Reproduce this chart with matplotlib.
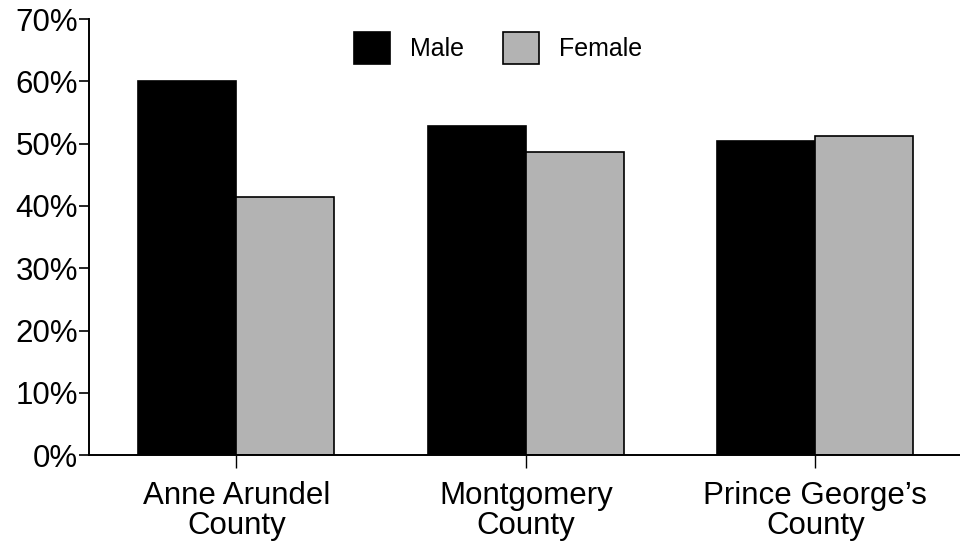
import numpy as np
import matplotlib
matplotlib.use("Agg")
import matplotlib.pyplot as plt
from matplotlib.ticker import PercentFormatter

plt.rcParams['font.family'] = ['Liberation Sans', 'DejaVu Sans']

counties = ["Anne Arundel\nCounty", "Montgomery\nCounty", "Prince George\u2019s\nCounty"]
male = [60.0, 52.8, 50.4]
female = [41.5, 48.6, 51.2]
y_ticks = [0, 10, 20, 30, 40, 50, 60, 70]

fig = plt.figure(figsize=(9.6, 5.45), dpi=100)
ax = fig.add_axes([0.093, 0.165, 0.907, 0.80])

x = np.arange(len(counties))
w = 0.338
ax.bar(x - w / 2, male, w, color="black", edgecolor="black", linewidth=1.2, label="Male")
ax.bar(x + w / 2, female, w, color="#b3b3b3", edgecolor="black", linewidth=1.2, label="Female")

ax.set_xlim(-0.508, 2.50)
ax.set_ylim(0, 70)
ax.set_yticks(y_ticks)
ax.yaxis.set_major_formatter(PercentFormatter(decimals=0))
ax.set_xticks(x)
ax.set_xticklabels(counties, linespacing=1.0)

for s in ["top", "right"]:
    ax.spines[s].set_visible(False)
for s in ["left", "bottom"]:
    ax.spines[s].set_linewidth(1.4)

ax.tick_params(axis="y", direction="out", length=7, width=1.2, pad=1, labelsize=22.5)
ax.tick_params(axis="x", direction="out", length=9, width=1.0, pad=10, labelsize=22.5)

ax.legend(loc="center", bbox_to_anchor=(498 / 960, 1 - 48 / 545), bbox_transform=fig.transFigure,
          ncol=2, frameon=False, fontsize=18, handlelength=1.44, handleheight=1.56,
          handletextpad=0.8, columnspacing=1.56)

fig.savefig("out.png", dpi=100)
